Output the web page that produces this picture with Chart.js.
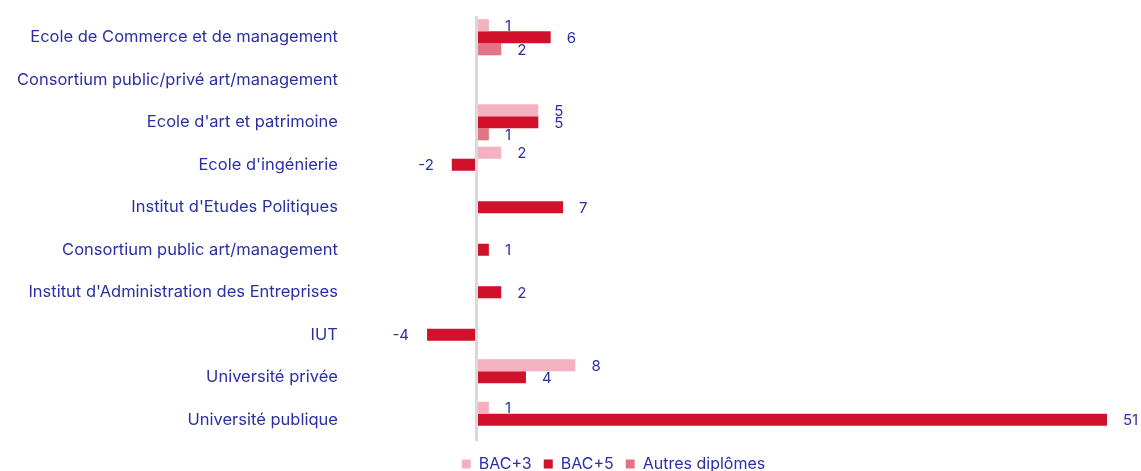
<!DOCTYPE html>
<html>
<head>
<meta charset="utf-8">
<script src="https://cdn.jsdelivr.net/npm/chart.js@4"></script>
<style>
  html, body { margin: 0; padding: 0; background: #fff; }
  #wrap { width: 1141px; height: 471px; }
</style>
</head>
<body>
<div id="wrap"><canvas id="diplomesChart"></canvas></div>
<script>
const categories = [
    'Ecole de Commerce et de management',
    'Consortium public/privé art/management',
    "Ecole d'art et patrimoine",
    "Ecole d'ingénierie",
    "Institut d'Etudes Politiques",
    'Consortium public art/management',
    "Institut d'Administration des Entreprises",
    'IUT',
    'Université privée',
    'Université publique'
];
const bac3 = [1, null, 5, 2, null, null, null, null, 8, 1];
const bac5 = [6, null, 5, -2, 7, 1, 2, -4, 4, 51];
const autres = [2, null, 1, null, null, null, null, null, null, null];

const textColor = '#2b2fa6';
const fontFamily = 'Inter, "Noto Sans", sans-serif';

// values written next to each bar end
const valueLabels = {
    id: 'valueLabels',
    afterDatasetsDraw(chart) {
        const ctx = chart.ctx;
        ctx.save();
        ctx.font = '15px ' + fontFamily;
        ctx.fillStyle = textColor;
        ctx.textBaseline = 'middle';
        chart.data.datasets.forEach((ds, i) => {
            chart.getDatasetMeta(i).data.forEach((bar, j) => {
                const v = ds.data[j];
                if (v === null || v === undefined) return;
                if (v < 0) {
                    ctx.textAlign = 'right';
                    ctx.fillText(v, bar.x - 18, bar.y + 1);
                } else {
                    ctx.textAlign = 'left';
                    ctx.fillText(v, bar.x + 16, bar.y + 1);
                }
            });
        });
        ctx.restore();
    }
};

// nudge the legend like in the original
const legendShift = {
    id: 'legendShift',
    afterLayout(chart) {
        chart.legend.left += 59;
        chart.legend.right += 59;
        chart.legend.top += 3;
        chart.legend.bottom += 3;
    }
};

new Chart(document.getElementById('diplomesChart'), {
    type: 'bar',
    data: {
        labels: categories,
        datasets: [
            { label: 'BAC+3', data: bac3, backgroundColor: '#f4b1c2' },
            { label: 'BAC+5', data: bac5, backgroundColor: '#d0112b' },
            { label: 'Autres diplômes', data: autres, backgroundColor: '#e07585' }
        ]
    },
    options: {
        indexAxis: 'y',
        responsive: true,
        maintainAspectRatio: false,
        animation: false,
        layout: { padding: { top: 16, right: 34, left: 2, bottom: -8 } },
        datasets: {
            bar: { categoryPercentage: 0.85, barPercentage: 1.0 }
        },
        scales: {
            x: {
                min: -10,
                max: 51,
                ticks: { display: false, stepSize: 10 },
                border: { display: false },
                grid: {
                    drawTicks: false,
                    lineWidth: 3,
                    color: c => c.tick && c.tick.value === 0 ? '#d9d9d9' : 'rgba(0,0,0,0)'
                }
            },
            y: {
                border: { display: false },
                grid: { display: false, drawTicks: false },
                ticks: {
                    color: textColor,
                    font: { family: fontFamily, size: 16.5 },
                    padding: 15
                },
                afterFit(scale) {
                    // keep the tick padding from pushing the plot down
                    scale.paddingTop = 0;
                    scale.paddingBottom = 0;
                }
            }
        },
        plugins: {
            legend: {
                position: 'bottom',
                labels: {
                    color: textColor,
                    font: { family: fontFamily, size: 16 },
                    boxWidth: 9,
                    boxHeight: 9,
                    padding: 12
                }
            },
            tooltip: { enabled: false }
        }
    },
    plugins: [valueLabels, legendShift]
});
</script>
</body>
</html>
